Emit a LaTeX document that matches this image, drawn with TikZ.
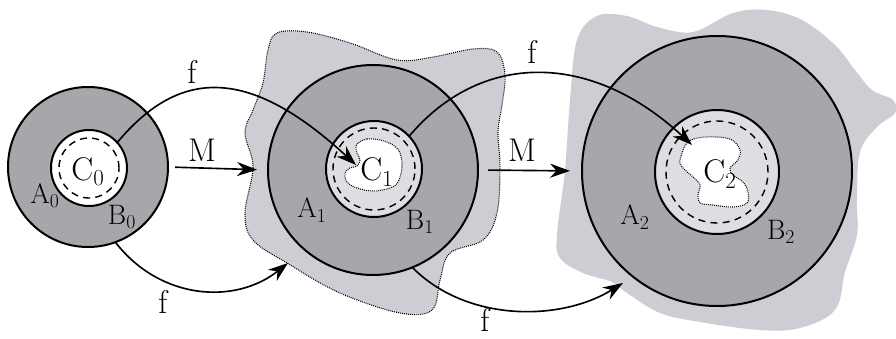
\documentclass[tikz,border=0pt]{standalone}
\usepackage{fontspec}
\usepackage{xcolor}
\usepackage{tikz}
\usetikzlibrary{arrows.meta,calc}
\definecolor{ringg}{HTML}{A6A6AB}
\definecolor{halo}{HTML}{CDCDD4}
\definecolor{core}{HTML}{DDDDE2}
\tikzset{
  ring/.style  ={draw, circle, fill=ringg, line width=1.7pt, inner sep=0pt, outer sep=0pt},
  corec/.style ={ring, fill=core},
  dsh/.style   ={draw, circle, dash pattern=on 6pt off 4.5pt, line width=1.2pt, inner sep=0pt},
  dotb/.style  ={draw, line width=0.9pt, dash pattern=on 0.8pt off 0.9pt},
  ar/.style    ={-{Stealth[length=17pt,width=12pt]}, line width=1.4pt},
  lab/.style   ={font=\fontsize{24}{26}\selectfont, inner sep=1pt},
  big/.style   ={font=\fontsize{28}{30}\selectfont, inner sep=1pt},
}

\begin{document}
\begin{tikzpicture}[x=0.3mm,y=-0.3mm]
\useasboundingbox (0,0) rectangle (896,339);
% shaded neighbourhoods
\fill[halo] plot[smooth cycle, tension=0.6] coordinates {
  (570,100) (577,40) (597,16) (627,16) (657,27) (693,32) (733,13) (767,10)
  (802,20) (835,45) (855,70) (872,90) (893,100) (895,113) (877,127) (860,152)
  (857,200) (857,235) (845,272) (835,310) (800,328) (760,330) (700,322)
  (660,313) (627,293) (612,282) (583,273) (560,258) (557,235) (565,170)};
\fill[halo] plot[smooth cycle, tension=0.6] coordinates {
  (277,33) (307,32) (350,43) (397,60) (433,57) (473,49) (497,52) (505,75)
  (502,105) (498,132) (500,167) (497,213) (483,240) (450,253) (440,280)
  (432,310) (400,313) (340,293) (287,263) (253,240) (245,213) (253,167)
  (245,133) (253,110) (263,83) (268,50)};
\draw[dotb] plot[smooth cycle, tension=0.6] coordinates {
  (277,33) (307,32) (350,43) (397,60) (433,57) (473,49) (497,52) (505,75)
  (502,105) (498,132) (500,167) (497,213) (483,240) (450,253) (440,280)
  (432,310) (400,313) (340,293) (287,263) (253,240) (245,213) (253,167)
  (245,133) (253,110) (263,83) (268,50)};
% the three stages
\node[ring, minimum size=48mm] (O0) at (88,167) {};
\node[ring, minimum size=63mm] (O1) at (373,170) {};
\node[ring, minimum size=81mm] (O2) at (717,171) {};
\node[ring, fill=white, minimum size=22.8mm] (I0) at (89,168) {};
\node[corec, minimum size=28.8mm] (I1) at (374,169) {};
\node[corec, minimum size=37.2mm] (I2) at (717,172) {};
\node[dsh, minimum size=18mm] (D0) at (89,168) {};
\node[dsh, minimum size=24.6mm] (D1) at (374,169) {};
\node[dsh, minimum size=30.6mm] (D2) at (717,172) {};
% white cores
\filldraw[fill=white, dotb] plot[smooth cycle, tension=0.6] coordinates {
  (358,143) (367,139) (380,140) (393,145) (400,153) (402,167) (398,182)
  (390,188) (373,191) (357,188) (347,182) (345,173) (350,168) (357,166)
  (360,160) (357,153) (356,147)};
\filldraw[fill=white, dotb] plot[smooth cycle, tension=0.6] coordinates {
  (682,153) (687,143) (697,138) (717,137) (732,140) (740,150) (738,160)
  (730,168) (733,175) (743,182) (748,192) (747,203) (733,207) (713,205)
  (700,203) (698,195) (700,185) (693,177) (685,170) (680,163)};
% arrow ends
\coordinate (t1) at (356,165);
\coordinate (t2) at (692,145);
\coordinate (h1) at (288,263);
\coordinate (h2) at (623,283);
% maps
\draw[ar] (I0.42) .. controls (180,67) and (250,67) .. (t1);
\draw[ar] (I1.43) .. controls (481,51) and (591,51) .. (t2);
\draw[ar] (O0.-70) .. controls (160,300) and (235,305) .. (h1);
\draw[ar] (O1.-68) .. controls (466,322) and (560,322) .. (h2);
\draw[ar, shorten <=2.1mm, shorten >=3.3mm] (O0.east) -- (O1.west);
\draw[ar, shorten <=3mm, shorten >=3.6mm] (O1.east) -- (O2.west);
% labels
\node[big] (f1) at (192,72) {f};
\node[big] (f2) at (532,52) {f};
\node[big] (f3) at (163,302) {f};
\node[big] (f4) at (485,320) {f};
\node[big] (m1) at (202,150) {M};
\node[big] (m2) at (522,150) {M};
\node[big] (c0) at (88,172) {C\textsubscript{0}};
\node[big] (c1) at (377,172) {C\textsubscript{1}};
\node[big] (c2) at (720,174) {C\textsubscript{2}};
\node[lab] (a0) at (45,196) {A\textsubscript{0}};
\node[lab] (b0) at (122,217) {B\textsubscript{0}};
\node[lab] (a1) at (312,210) {A\textsubscript{1}};
\node[lab] (b1) at (420,222) {B\textsubscript{1}};
\node[lab] (a2) at (635,217) {A\textsubscript{2}};
\node[lab] (b2) at (781,232) {B\textsubscript{2}};
\end{tikzpicture}
\end{document}
